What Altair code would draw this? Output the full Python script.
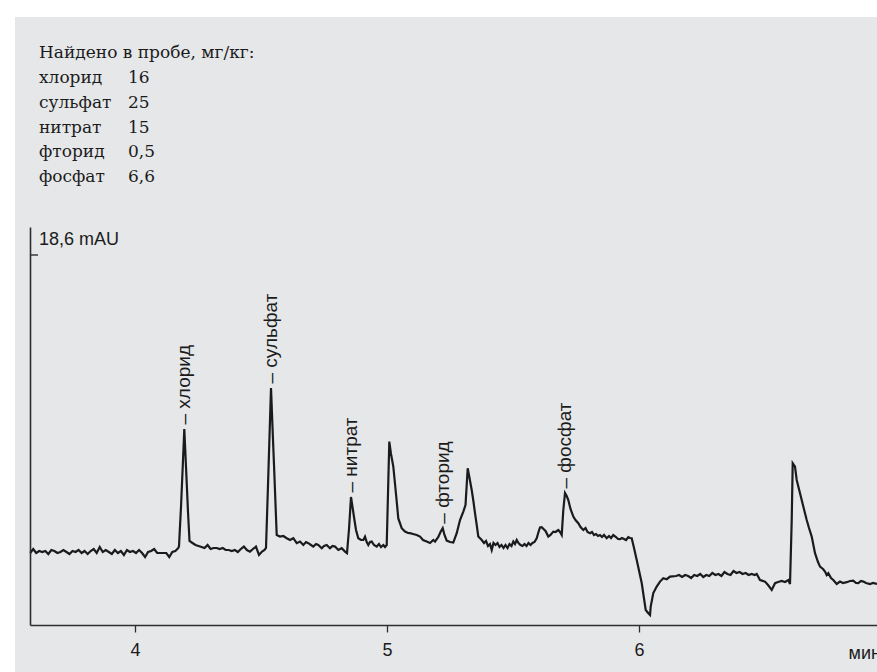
import altair as alt
import pandas as pd

# ---- sample summary (top-left block) ----
found_header = "Найдено в пробе, мг/кг:"
found_names = ["хлорид", "сульфат", "нитрат", "фторид", "фосфат"]
found_amounts = ["16", "25", "15", "0,5", "6,6"]

# ---- identified peaks: retention time (min) and apex signal (mAU) ----
peak_names = ["хлорид", "сульфат", "нитрат", "фторид", "фосфат"]
peak_time = [4.1956, 4.5397, 4.8571, 5.2210, 5.7063]
peak_signal = [9.90, 11.95, 6.50, 4.94, 6.70]

x_ticks = [4, 5, 6]
y_mark = 18.6
y_mark_label = "18,6 mAU"
x_unit = "мин"

# ---- chromatogram trace, time (min) / signal (mAU) ----
t_lead = [3.584, 3.596, 3.608, 3.620, 3.632, 3.644, 3.656, 3.668, 3.680, 3.692,
          3.704, 3.716, 3.728, 3.740, 3.752, 3.764, 3.776, 3.788, 3.800, 3.812,
          3.824, 3.836, 3.848, 3.860, 3.872, 3.884, 3.896, 3.908, 3.920, 3.932,
          3.944, 3.956, 3.968, 3.980, 3.992, 4.004, 4.016, 4.028, 4.040, 4.052,
          4.064, 4.076, 4.088, 4.100, 4.112, 4.124, 4.136, 4.148, 4.160, 4.172]
v_lead = [3.70, 3.90, 3.70, 3.80, 3.75, 3.80, 3.65, 3.85, 3.80, 3.70,
          3.75, 3.85, 3.75, 3.65, 3.80, 3.75, 3.85, 3.70, 3.80, 3.65,
          3.80, 3.90, 3.70, 4.00, 3.75, 3.85, 3.75, 3.65, 3.85, 3.70,
          3.80, 3.60, 3.85, 3.75, 3.80, 3.70, 3.85, 3.70, 3.50, 3.75,
          3.80, 3.90, 3.70, 3.70, 3.70, 3.70, 3.50, 3.75, 3.80, 3.95]

t_chloride = [4.1746, 4.1825, 4.1905, 4.1956, 4.2024, 4.2103, 4.2163]
v_chloride = [4.05, 6.00, 8.35, 9.90, 8.00, 5.75, 4.30]

t_gap1 = [4.228, 4.240, 4.252, 4.264, 4.276, 4.288, 4.300, 4.312, 4.324, 4.336,
          4.348, 4.360, 4.372, 4.384, 4.396, 4.408, 4.420, 4.432, 4.444, 4.456,
          4.468, 4.480, 4.492, 4.504, 4.514]
v_gap1 = [4.20, 4.10, 4.05, 4.00, 3.95, 4.10, 3.90, 3.95, 3.95, 3.90,
          3.95, 3.85, 3.85, 3.80, 3.85, 3.75, 3.90, 4.02, 3.85, 3.77,
          3.90, 4.02, 3.60, 3.77, 3.85]

t_sulfate = [4.5198, 4.5278, 4.5357, 4.5397, 4.5456, 4.5516, 4.5575, 4.5623]
v_sulfate = [3.95, 7.10, 10.35, 11.95, 10.00, 8.10, 6.15, 4.60]

t_gap2 = [4.5754, 4.5885, 4.6020, 4.6151, 4.6282, 4.6417, 4.6548, 4.6679,
          4.6786, 4.6877, 4.6984, 4.7075, 4.7183, 4.7274, 4.7409, 4.7500,
          4.7607, 4.7738, 4.7837, 4.7937, 4.8067, 4.8202, 4.8333, 4.8413]
v_gap2 = [4.52, 4.55, 4.44, 4.35, 4.44, 4.19, 4.27, 4.10,
          4.25, 4.19, 4.10, 4.02, 4.15, 4.10, 3.94, 4.05,
          4.10, 3.94, 4.05, 4.02, 3.85, 3.94, 3.77, 3.69]

t_nitrate = [4.8492, 4.8532, 4.8571, 4.8631, 4.8690, 4.8770]
v_nitrate = [4.90, 5.70, 6.50, 6.00, 5.50, 4.85]

t_gap3 = [4.8861, 4.8968, 4.9060, 4.9127, 4.9194, 4.9258, 4.9325, 4.9393,
          4.9484, 4.9591, 4.9683, 4.9762, 4.9853, 4.9921, 4.9988]
v_gap3 = [4.44, 4.35, 4.35, 4.52, 4.25, 4.10, 4.25, 4.27,
          4.10, 4.02, 4.15, 4.00, 4.10, 4.00, 4.10]

t_fluoride_zone = [5.0040, 5.0091, 5.0159, 5.0250, 5.0357, 5.0448, 5.0583, 5.0714,
                   5.0833, 5.0913, 5.1032, 5.1179, 5.1310, 5.1429, 5.1575, 5.1706,
                   5.1837, 5.1905, 5.2036, 5.2123, 5.2210, 5.2282, 5.2369, 5.2500,
                   5.2631, 5.2766, 5.2897, 5.3028, 5.3115, 5.3202, 5.3274, 5.3361,
                   5.3433, 5.3492, 5.3560, 5.3623, 5.3758]
v_fluoride_zone = [6.70, 9.27, 8.65, 8.02, 6.65, 5.43, 4.94, 4.77,
                   4.70, 4.69, 4.65, 4.60, 4.52, 4.35, 4.27, 4.20,
                   4.35, 4.27, 4.50, 4.75, 4.94, 4.60, 4.32, 4.25,
                   4.22, 4.69, 5.35, 5.77, 6.10, 7.94, 7.45, 6.85,
                   6.25, 5.69, 5.10, 4.52, 4.35]

t_phosphate_zone = [5.3849, 5.3929, 5.4008, 5.4087, 5.4155, 5.4226, 5.4306, 5.4385, 5.4464, 5.4544,
                    5.4623, 5.4702, 5.4782, 5.4861, 5.4940, 5.5012, 5.5079, 5.5147, 5.5218, 5.5298,
                    5.5377, 5.5456, 5.5536, 5.5615, 5.5694, 5.5774, 5.5853, 5.5940, 5.6012, 5.6071,
                    5.6139, 5.6210, 5.6290, 5.6401, 5.6488, 5.6599, 5.6687, 5.6798, 5.6865, 5.6933,
                    5.6996, 5.7063, 5.7131, 5.7194, 5.7282, 5.7393, 5.7480, 5.7591, 5.7679, 5.7790,
                    5.7877, 5.7956, 5.8056, 5.8135, 5.8214, 5.8294, 5.8373, 5.8452, 5.8532, 5.8611,
                    5.8718, 5.8810, 5.8889, 5.8980, 5.9087, 5.9167, 5.9246, 5.9325, 5.9405, 5.9484,
                    5.9575, 5.9643, 5.9710]
v_phosphate_zone = [4.20, 4.30, 4.05, 4.15, 3.85, 4.20, 4.10, 4.20, 4.00, 4.10,
                    3.95, 4.10, 3.95, 4.15, 4.05, 4.27, 4.15, 4.35, 4.20, 4.10,
                    4.05, 4.15, 4.05, 4.20, 4.10, 4.20, 4.25, 4.44, 4.75, 4.98,
                    4.99, 4.90, 4.80, 4.52, 4.60, 4.77, 4.75, 4.85, 4.75, 4.60,
                    5.85, 6.70, 6.55, 6.35, 5.90, 5.52, 5.35, 5.19, 5.00, 4.85,
                    4.95, 4.75, 4.69, 4.75, 4.60, 4.65, 4.55, 4.60, 4.50, 4.60,
                    4.44, 4.55, 4.45, 4.60, 4.50, 4.40, 4.39, 4.45, 4.40, 4.35,
                    4.49, 4.45, 4.44]

t_drop = [5.9802, 5.9909, 6.0107, 6.0266, 6.0369, 6.0437, 6.0464, 6.0567,
          6.0702, 6.0833, 6.0964, 6.1099, 6.1230]
v_drop = [3.95, 3.35, 2.20, 0.85, 0.69, 0.60, 1.02, 1.70,
          2.02, 2.27, 2.44, 2.39, 2.52]

t_plateau = [6.147, 6.159, 6.171, 6.183, 6.195, 6.207, 6.219, 6.231, 6.243, 6.255,
             6.267, 6.279, 6.291, 6.303, 6.315, 6.327, 6.339, 6.351, 6.363, 6.375,
             6.387, 6.399, 6.411, 6.423, 6.435, 6.447, 6.459]
v_plateau = [2.55, 2.60, 2.50, 2.60, 2.55, 2.45, 2.60, 2.55, 2.65, 2.50,
             2.60, 2.55, 2.70, 2.60, 2.65, 2.55, 2.75, 2.65, 2.60, 2.80,
             2.70, 2.75, 2.65, 2.70, 2.60, 2.65, 2.60]

t_late = [6.4671, 6.4802, 6.5000, 6.5119, 6.5266, 6.5397, 6.5516, 6.5663, 6.5794, 6.5925,
          6.5992, 6.6060, 6.6099, 6.6190, 6.6258, 6.6389, 6.6520, 6.6655, 6.6746, 6.6853,
          6.6984, 6.7103, 6.7183, 6.7302, 6.7381, 6.7448, 6.7512, 6.7619, 6.7710, 6.7845,
          6.7976, 6.8095, 6.8242, 6.8373, 6.8504, 6.8611, 6.8702, 6.8810, 6.8901, 6.9008,
          6.9167, 6.9286, 6.9444]
v_late = [2.65, 2.35, 2.27, 2.10, 1.85, 2.19, 2.25, 2.30, 2.25, 2.35,
          2.15, 5.35, 8.19, 8.02, 7.35, 6.69, 6.02, 5.35, 4.95, 4.52,
          3.69, 3.25, 3.02, 2.90, 2.77, 2.60, 2.69, 2.45, 2.35, 2.15,
          2.27, 2.20, 2.24, 2.30, 2.32, 2.20, 2.19, 2.30, 2.27, 2.20,
          2.15, 2.20, 2.15]

time_all = (t_lead + t_chloride + t_gap1 + t_sulfate + t_gap2 + t_nitrate + t_gap3
            + t_fluoride_zone + t_phosphate_zone + t_drop + t_plateau + t_late)
signal_all = (v_lead + v_chloride + v_gap1 + v_sulfate + v_gap2 + v_nitrate + v_gap3
              + v_fluoride_zone + v_phosphate_zone + v_drop + v_plateau + v_late)

trace = pd.DataFrame({"t": time_all, "v": signal_all})
peaks = pd.DataFrame({"t": peak_time, "v": peak_signal,
                      "label": ["– " + n for n in peak_names]})
ymark_df = pd.DataFrame({"v": [y_mark], "label": [y_mark_label]})
table_head = pd.DataFrame({"txt": [found_header]})
table_names = pd.DataFrame({"txt": ["\n".join(found_names)]})
table_amounts = pd.DataFrame({"txt": ["\n".join(found_amounts)]})

# ---- styling ----
W, H = 847, 398
PANEL = "#e6e7e9"
INK = "#1b1b1b"
AXIS = "#2e2e2e"
SANS = "Liberation Sans"
SERIF = "DejaVu Serif"

x_scale = alt.Scale(domain=[3.5833, 6.9444], nice=False, zero=False)
y_scale = alt.Scale(domain=[0.1, 20.0], nice=False, zero=False)

panel = alt.Chart(alt.Data(values=[{}])).mark_rect(color=PANEL).encode(
    x=alt.value(-15), x2=alt.value(W), y=alt.value(-210), y2=alt.value(H + 47)
)

line = alt.Chart(trace).mark_line(color=INK, strokeWidth=2.2).encode(
    x=alt.X("t:Q", scale=x_scale,
            axis=alt.Axis(values=x_ticks, format="d", grid=False, zindex=1,
                          title=x_unit, titleX=818, titleY=28, titleAlign="left",
                          titleBaseline="middle", titleAngle=0, titleFont=SANS,
                          titleFontSize=18, titleFontWeight="normal", titleColor=INK,
                          labelFont=SANS, labelFontSize=18, labelColor=INK,
                          labelPadding=9, labelFlush=False,
                          tickSize=7, tickColor=AXIS, tickWidth=1.3,
                          domainColor=AXIS, domainWidth=1.6)),
    y=alt.Y("v:Q", scale=y_scale,
            axis=alt.Axis(title="", labels=False, ticks=False, grid=False, zindex=1,
                          domainColor=AXIS, domainWidth=1.6)),
)

ytick = alt.Chart(ymark_df).mark_rule(color=AXIS, strokeWidth=1.4).encode(
    y=alt.Y("v:Q", scale=y_scale), x=alt.value(0), x2=alt.value(8)
)
ylabel = alt.Chart(ymark_df).mark_text(
    align="left", baseline="alphabetic", dy=-10, font=SANS, fontSize=18, color=INK
).encode(y=alt.Y("v:Q", scale=y_scale), x=alt.value(9), text="label:N")

peak_labels = alt.Chart(peaks).mark_text(
    angle=270, align="left", baseline="middle", dx=4.5, font=SANS, fontSize=19, color=INK
).encode(x=alt.X("t:Q", scale=x_scale), y=alt.Y("v:Q", scale=y_scale), text="label:N")

head = alt.Chart(table_head).mark_text(
    align="left", baseline="alphabetic", font=SERIF, fontSize=17, color=INK
).encode(x=alt.value(9), y=alt.value(-169), text="txt:N")
names = alt.Chart(table_names).mark_text(
    align="left", baseline="alphabetic", font=SERIF, fontSize=17, color=INK,
    lineBreak="\n", lineHeight=24.8
).encode(x=alt.value(9), y=alt.value(-144), text="txt:N")
amounts = alt.Chart(table_amounts).mark_text(
    align="left", baseline="alphabetic", font=SERIF, fontSize=17, color=INK,
    lineBreak="\n", lineHeight=24.8
).encode(x=alt.value(98), y=alt.value(-144), text="txt:N")

chart = alt.layer(
    panel, line, ytick, ylabel, peak_labels, head, names, amounts
).properties(
    width=W, height=H,
    autosize=alt.AutoSizeParams(type="none"),
    padding={"left": 30, "top": 227, "right": 0, "bottom": 47},
    background="#ffffff",
).configure_view(strokeWidth=0)

chart.save("out.html", embed_options={"renderer": "svg", "actions": False})
